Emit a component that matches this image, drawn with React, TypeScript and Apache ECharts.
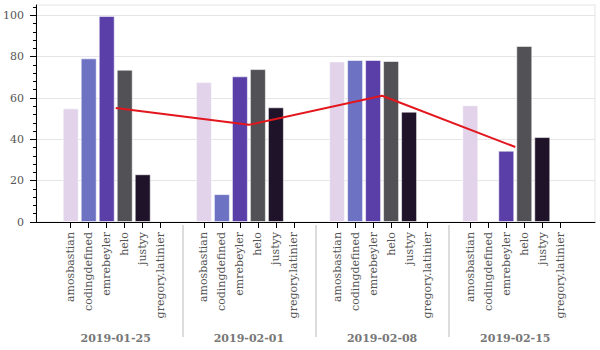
import React, { useEffect, useRef } from "react";
import * as echarts from "echarts";

const dates = ["2019-01-25", "2019-02-01", "2019-02-08", "2019-02-15"];
const users = ["amosbastian", "codingdefined", "emrebeyler", "helo", "justyy", "gregory.latinier"];
const userColors = ["#e2d3eb", "#6d72c3", "#5a3fa8", "#525156", "#1e1329", "#000000"];

const amosbastian = [55.0, 67.7, 77.7, 56.5];
const codingdefined = [79.2, 13.5, 78.4, 0];
const emrebeyler = [99.7, 70.5, 78.4, 34.5];
const helo = [73.7, 74.0, 77.9, 85.2];
const justyy = [23.1, 55.5, 53.4, 41.1];
const gregoryLatinier = [0, 0, 0, 0];
const averages = [55.2, 47.0, 61.1, 36.3];

const yTicks = [0, 20, 40, 60, 80, 100];
const yMinorTicks = [4, 8, 12, 16, 24, 28, 32, 36, 44, 48, 52, 56, 64, 68, 72, 76, 84, 88, 92, 96, 104];

const FONT = "DejaVu Serif";

export default function App() {
  const ref = useRef<HTMLDivElement>(null);
  useEffect(() => {
    if (!ref.current) return;
    const chart = echarts.init(ref.current, undefined, { renderer: "svg" });
    const valuesByUser = [amosbastian, codingdefined, emrebeyler, helo, justyy, gregoryLatinier];
    const groupPad = 1.4;
    const step = users.length + groupPad;
    const pos = (g: number, i: number) => Math.round((g * step + i) * 1000) / 1000;
    const positions: number[] = [];
    const posNames: string[] = [];
    const barData: any[] = [];
    dates.forEach((d, g) => {
      users.forEach((u, i) => {
        positions.push(pos(g, i));
        posNames.push(u);
        const v = valuesByUser[i][g];
        if (v > 0) {
          barData.push({
            value: [pos(g, i), v],
            itemStyle: { color: userColors[i] },
          });
        }
      });
    });
    const centers = dates.map((_, g) => pos(g, (users.length - 1) / 2));
    const separators = dates.slice(1).map((_, g) => pos(g, users.length - 1 + (1 + groupPad) / 2));
    const xMin = -1.93;
    const xMax = pos(dates.length - 1, users.length - 1) + 1.93;
    const findName = (v: number, vals: number[], names: string[]) => {
      for (let k = 0; k < vals.length; k++) if (Math.abs(vals[k] - v) < 1e-4) return names[k];
      return "";
    };

    chart.setOption({
      animation: false,
      textStyle: { fontFamily: FONT },
      grid: {
        left: 34,
        right: 5,
        top: 5,
        bottom: 128,
        show: true,
        borderColor: "#e5e5e5",
        borderWidth: 1,
        backgroundColor: "transparent",
      },
      xAxis: [
        {
          type: "value",
          min: xMin,
          max: xMax,
          position: "bottom",
          axisLine: { show: true, onZero: false, lineStyle: { color: "#000", width: 1 } },
          axisTick: { show: true, customValues: positions, length: 6, lineStyle: { color: "#000" } },
          axisLabel: {
            show: true,
            customValues: positions,
            rotate: 90,
            margin: 10,
            fontSize: 11,
            fontFamily: FONT,
            color: "#555",
            formatter: (v: number) => findName(v, positions, posNames),
          },
          splitLine: { show: false },
        },
        {
          type: "value",
          min: xMin,
          max: xMax,
          position: "bottom",
          offset: 3,
          axisLine: { show: false, onZero: false },
          axisTick: { show: true, customValues: separators, length: 112, lineStyle: { color: "#d0d0d0", width: 1.5 } },
          axisLabel: {
            show: true,
            customValues: centers,
            margin: 108,
            fontSize: 11,
            fontWeight: "bold",
            fontFamily: FONT,
            color: "#777",
            formatter: (v: number) => findName(v, centers, dates),
          },
          splitLine: { show: false },
        },
      ],
      yAxis: [
        {
          type: "value",
          position: "left",
          min: 0,
          max: 105,
          interval: 20,
          axisLine: { show: true, onZero: false, lineStyle: { color: "#000", width: 1 } },
          axisTick: { show: true, customValues: yTicks, length: 6, lineStyle: { color: "#000" } },
          axisLabel: {
            show: true,
            customValues: yTicks,
            margin: 12,
            fontSize: 11,
            fontFamily: FONT,
            color: "#555",
          },
          splitLine: { show: true, lineStyle: { color: "#e5e5e5", width: 1 } },
        },
        {
          type: "value",
          position: "left",
          offset: 0,
          min: 0,
          max: 105,
          interval: 20,
          axisLine: { show: false, onZero: false },
          axisTick: { show: true, customValues: yMinorTicks, length: 3, lineStyle: { color: "#000" } },
          axisLabel: { show: false },
          splitLine: { show: false },
        },
      ],
      series: [
        {
          type: "bar",
          xAxisIndex: 0,
          yAxisIndex: 0,
          barWidth: 16,
          itemStyle: { borderColor: "rgba(255,255,255,0.55)", borderWidth: 1 },
          data: barData,
        },
        {
          type: "line",
          xAxisIndex: 0,
          yAxisIndex: 0,
          symbol: "none",
          lineStyle: { color: "#e3161d", width: 2 },
          data: averages.map((a, g) => [centers[g], a]),
        },
      ],
    });
    return () => chart.dispose();
  }, []);
  return (
    <div
      ref={ref}
      style={{ position: "absolute", left: 0, top: 0, width: 600, height: 350 }}
    />
  );
}
